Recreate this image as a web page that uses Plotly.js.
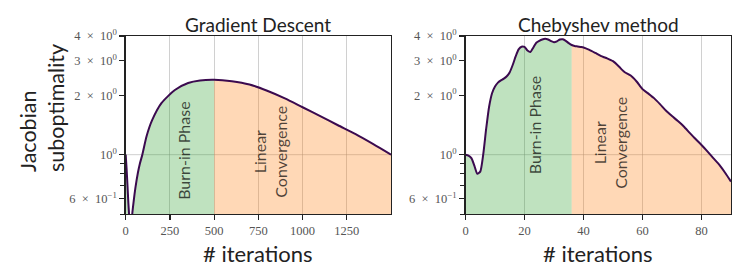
<!DOCTYPE html>
<html>
<head>
<meta charset="utf-8">
<script src="https://cdn.plot.ly/plotly-3.0.1.min.js"></script>
<style>html,body{margin:0;padding:0;background:#fff;}#chart{width:747px;height:280px;}</style>
</head>
<body>
<div id="chart"></div>
<script>
// Gradient Descent panel
const gdIter = [0, 5, 10, 15, 19, 25, 30, 37, 45, 55, 69, 80, 94, 118, 150, 203, 278, 353, 420, 500, 600, 700, 800, 900, 1000, 1100, 1200, 1300, 1400, 1500];
const gdValue = [1.0, 0.85, 0.70, 0.57, 0.50, 0.40, 0.40, 0.50, 0.58, 0.68, 0.81, 0.90, 1.0, 1.24, 1.50, 1.83, 2.13, 2.31, 2.38, 2.40, 2.36, 2.27, 2.11, 1.93, 1.74, 1.57, 1.41, 1.27, 1.13, 1.0];
const gdBurnInEnd = 500;

// Chebyshev panel
const chIter = [0,1,2,3,4,5,6,7,8,9,10,11,12,13,14,15,16,17,18,19,20,21,22,23,24,25,26,27,28,29,30,31,32,33,34,35,36,37,38,39,40,42,44,46,47,48,50,52,53,54,56,58,60,62,64,66,68,70,72,74,76,78,80,82,84,86,88,90];
const chValue = [1.0,0.99,0.96,0.88,0.80,0.82,1.0,1.35,1.75,2.05,2.22,2.32,2.38,2.43,2.50,2.62,2.85,3.15,3.42,3.53,3.52,3.38,3.32,3.50,3.70,3.78,3.84,3.87,3.84,3.77,3.72,3.76,3.84,3.85,3.78,3.68,3.60,3.56,3.54,3.52,3.50,3.40,3.28,3.16,3.12,3.08,2.98,2.80,2.70,2.62,2.52,2.35,2.15,2.04,1.93,1.80,1.67,1.57,1.48,1.39,1.29,1.20,1.12,1.04,0.96,0.89,0.81,0.73];
const chBurnInEnd = 36;

// Tick labels
const yTickVals = [0.6, 1, 2, 3, 4];
const yTickText = ['6\u2002×\u200210<sup>−1</sup>', '10<sup>0</sup>', '2\u2002×\u200210<sup>0</sup>', '3\u2002×\u200210<sup>0</sup>', '4\u2002×\u200210<sup>0</sup>'];
const yMinorVals = [0.5, 0.7, 0.8, 0.9];
const gdXTicks = [0, 250, 500, 750, 1000, 1250];
const chXTicks = [0, 20, 40, 60, 80];

const titles = ['Gradient Descent', 'Chebyshev method'];
const xTitle = '# iterations';
const yTitle = 'Jacobian<br>suboptimality';
const phase1 = 'Burn-in Phase';
const phase2 = 'Linear<br>Convergence';

const lineColor = '#3b0a4f';
const greenFill = 'rgba(44,160,44,0.3)';
const orangeFill = 'rgba(255,127,14,0.3)';

function split(xs, ys, end) {
  const a = {x: [], y: []}, b = {x: [], y: []};
  xs.forEach((x, i) => {
    if (x <= end) { a.x.push(x); a.y.push(ys[i]); }
    if (x >= end) { b.x.push(x); b.y.push(ys[i]); }
  });
  return [a, b];
}

const traces = [];
function addPanel(xs, ys, end, xa, ya) {
  const [a, b] = split(xs, ys, end);
  traces.push({x: a.x, y: a.y, xaxis: xa, yaxis: ya, type: 'scatter', mode: 'none', fill: 'tozeroy', fillcolor: greenFill, hoverinfo: 'skip', showlegend: false});
  traces.push({x: b.x, y: b.y, xaxis: xa, yaxis: ya, type: 'scatter', mode: 'none', fill: 'tozeroy', fillcolor: orangeFill, hoverinfo: 'skip', showlegend: false});
  traces.push({x: xs, y: ys, xaxis: xa, yaxis: ya, type: 'scatter', mode: 'lines', line: {color: lineColor, width: 2, shape: 'spline', smoothing: 0.6}, showlegend: false});
}
addPanel(gdIter, gdValue, gdBurnInEnd, 'x', 'y');
addPanel(chIter, chValue, chBurnInEnd, 'x2', 'y2');

const tickFont = {family: 'Liberation Serif, DejaVu Serif, serif', size: 12.5, color: '#555'};
const frame = {showline: true, mirror: true, linecolor: '#222', linewidth: 1.3, ticks: 'outside', ticklen: 5, tickwidth: 1.2, tickcolor: '#222', zeroline: false, tickfont: tickFont};

function yAxis(anchor) {
  return Object.assign({}, frame, {
    type: 'log', range: [Math.log10(0.5), Math.log10(4)], domain: [1 - 214/280, 1 - 36/280],
    anchor: anchor, tickmode: 'array', tickvals: yTickVals, ticktext: yTickText, showgrid: false,
    minor: {tickmode: 'array', tickvals: yMinorVals, ticks: 'outside', ticklen: 4, tickwidth: 1, tickcolor: '#222', showgrid: false}
  });
}
function xAxis(anchor, dom, range, ticks) {
  return Object.assign({}, frame, {
    domain: dom, range: range, anchor: anchor, tickmode: 'array', tickvals: ticks,
    showgrid: true, gridcolor: 'rgba(150,150,150,0.45)', gridwidth: 1
  });
}

const sans = 'Lato, Open Sans, sans-serif';
const annotations = [
  {text: titles[0], xref: 'paper', yref: 'paper', x: 258/747, y: 1 - 24/280, xanchor: 'center', yanchor: 'middle', showarrow: false, font: {family: sans, size: 19, color: '#222'}},
  {text: titles[1], xref: 'paper', yref: 'paper', x: 598/747, y: 1 - 24/280, xanchor: 'center', yanchor: 'middle', showarrow: false, font: {family: sans, size: 19, color: '#222'}},
  {text: xTitle, xref: 'paper', yref: 'paper', x: 258/747, y: 1 - 253/280, xanchor: 'center', yanchor: 'middle', borderpad: 0, showarrow: false, font: {family: sans, size: 22, color: '#222'}},
  {text: xTitle, xref: 'paper', yref: 'paper', x: 598/747, y: 1 - 253/280, xanchor: 'center', yanchor: 'middle', borderpad: 0, showarrow: false, font: {family: sans, size: 22, color: '#222'}},
  {text: yTitle, xref: 'paper', yref: 'paper', x: 42/747, y: 1 - 108/280, xanchor: 'center', yanchor: 'middle', textangle: -90, align: 'left', showarrow: false, font: {family: sans, size: 21.5, color: '#222'}},
  {text: phase1, xref: 'x', yref: 'y', x: 327, y: Math.log10(1.04), textangle: -90, showarrow: false, font: {family: sans, size: 16, color: 'rgba(0,0,0,0.7)'}},
  {text: phase2, xref: 'x', yref: 'y', x: 818, y: Math.log10(1.04), textangle: -90, showarrow: false, font: {family: sans, size: 16, color: 'rgba(0,0,0,0.7)'}},
  {text: phase1, xref: 'x2', yref: 'y2', x: 23.2, y: Math.log10(1.41), textangle: -90, showarrow: false, font: {family: sans, size: 16, color: 'rgba(0,0,0,0.7)'}},
  {text: phase2, xref: 'x2', yref: 'y2', x: 49.0, y: Math.log10(1.15), textangle: -90, showarrow: false, font: {family: sans, size: 16, color: 'rgba(0,0,0,0.7)'}}
];

const shapes = [
  {type: 'line', xref: 'x domain', yref: 'y', x0: 0, x1: 1, y0: 1, y1: 1, layer: 'below', line: {color: 'rgba(150,150,150,0.45)', width: 1}},
  {type: 'line', xref: 'x2 domain', yref: 'y2', x0: 0, x1: 1, y0: 1, y1: 1, layer: 'below', line: {color: 'rgba(150,150,150,0.45)', width: 1}}
];

const layout = {
  width: 747, height: 280, margin: {l: 0, r: 0, t: 0, b: 0},
  paper_bgcolor: '#fff', plot_bgcolor: '#fff', showlegend: false,
  xaxis: xAxis('y', [125.7/747, 391/747], [0, 1500], gdXTicks),
  yaxis: yAxis('x'),
  xaxis2: xAxis('y2', [465.5/747, 731/747], [0, 90], chXTicks),
  yaxis2: yAxis('x2'),
  annotations: annotations, shapes: shapes
};

Plotly.newPlot('chart', traces, layout, {displayModeBar: false, staticPlot: true});
</script>
</body>
</html>
